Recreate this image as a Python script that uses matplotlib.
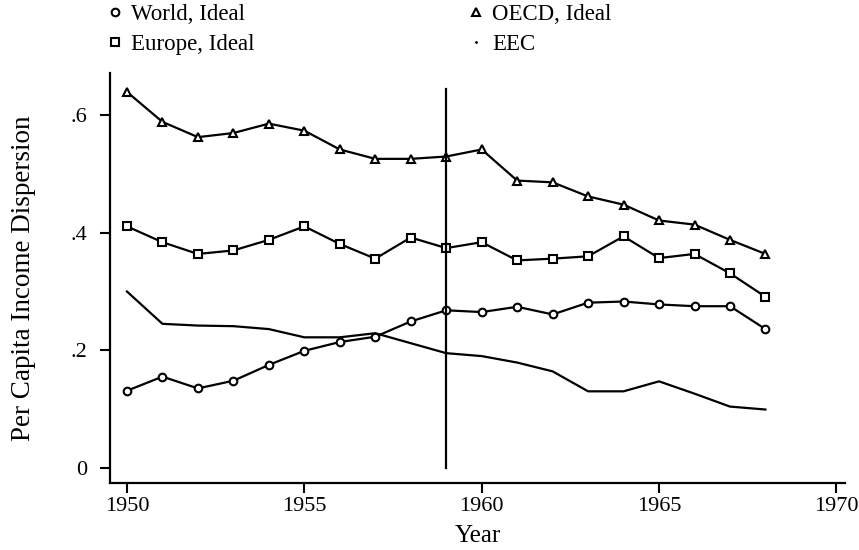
import matplotlib
matplotlib.use("Agg")
import matplotlib.pyplot as plt
from matplotlib.lines import Line2D

years = list(range(1950, 1969))

world = [0.131, 0.155, 0.135, 0.148, 0.175, 0.199, 0.214, 0.223, 0.249, 0.268,
         0.265, 0.274, 0.261, 0.281, 0.283, 0.278, 0.275, 0.275, 0.236]
europe = [0.411, 0.384, 0.364, 0.370, 0.388, 0.411, 0.381, 0.356, 0.392, 0.374,
          0.384, 0.353, 0.356, 0.360, 0.394, 0.357, 0.364, 0.331, 0.291]
oecd = [0.640, 0.589, 0.563, 0.570, 0.586, 0.574, 0.542, 0.526, 0.526, 0.530,
        0.542, 0.489, 0.486, 0.462, 0.448, 0.421, 0.414, 0.388, 0.364]
eec = [0.300, 0.245, 0.242, 0.241, 0.236, 0.222, 0.222, 0.229, 0.212, 0.195,
       0.190, 0.179, 0.164, 0.130, 0.130, 0.147, 0.126, 0.104, 0.099]

vline_year = 1959
vline_span = [0.0, 0.645]

xticks = [1950, 1955, 1960, 1965, 1970]
yticks = [0, 0.2, 0.4, 0.6]
ytick_labels = ["0", ".2", ".4", ".6"]

plt.rcParams["font.family"] = ["Liberation Serif", "DejaVu Serif"]

fig = plt.figure(figsize=(8.59, 5.50), dpi=100)
ax = fig.add_axes([0.128, 0.122, 0.856, 0.745])

lw = 1.6
mk = dict(markerfacecolor="white", markeredgecolor="black", markeredgewidth=1.5, markersize=5.5)
ax.plot(years, world, "k-", lw=lw, marker="o", **mk)
ax.plot(years, europe, "k-", lw=lw, marker="s", **mk)
ax.plot(years, oecd, "k-", lw=lw, marker="^", **mk)
ax.plot(years, eec, "k-", lw=lw)
ax.plot([vline_year, vline_year], vline_span, "k-", lw=lw)

ax.set_xlim(1949.52, 1970.25)
ax.set_ylim(-0.026, 0.672)
ax.set_xticks(xticks)
ax.set_yticks(yticks)
ax.set_yticklabels(ytick_labels)
for s in ["top", "right"]:
    ax.spines[s].set_visible(False)
for s in ["left", "bottom"]:
    ax.spines[s].set_linewidth(1.6)
ax.tick_params(direction="out", length=7.5, width=1.5, labelsize=16)
ax.tick_params(axis="x", pad=3)
ax.tick_params(axis="y", pad=9)
ax.set_xlabel("Year", fontsize=18, labelpad=6)
ax.set_ylabel("Per Capita Income Dispersion", fontsize=19.5, labelpad=25)

handles = [
    Line2D([], [], ls="none", marker="o", **mk),
    Line2D([], [], ls="none", marker="s", **mk),
    Line2D([], [], ls="none", marker="^", **mk),
    Line2D([], [], ls="none", marker=".", color="black", markersize=2),
]
labels = ["World, Ideal", "Europe, Ideal", "OECD, Ideal", "EEC"]
fig.legend(handles, labels, ncol=2, frameon=False, loc="upper left",
           bbox_to_anchor=(0.102, 1.03), fontsize=16.5, handlelength=0.6,
           handletextpad=0.4, columnspacing=9.35, labelspacing=0.4)

fig.savefig("out.png", dpi=100)
